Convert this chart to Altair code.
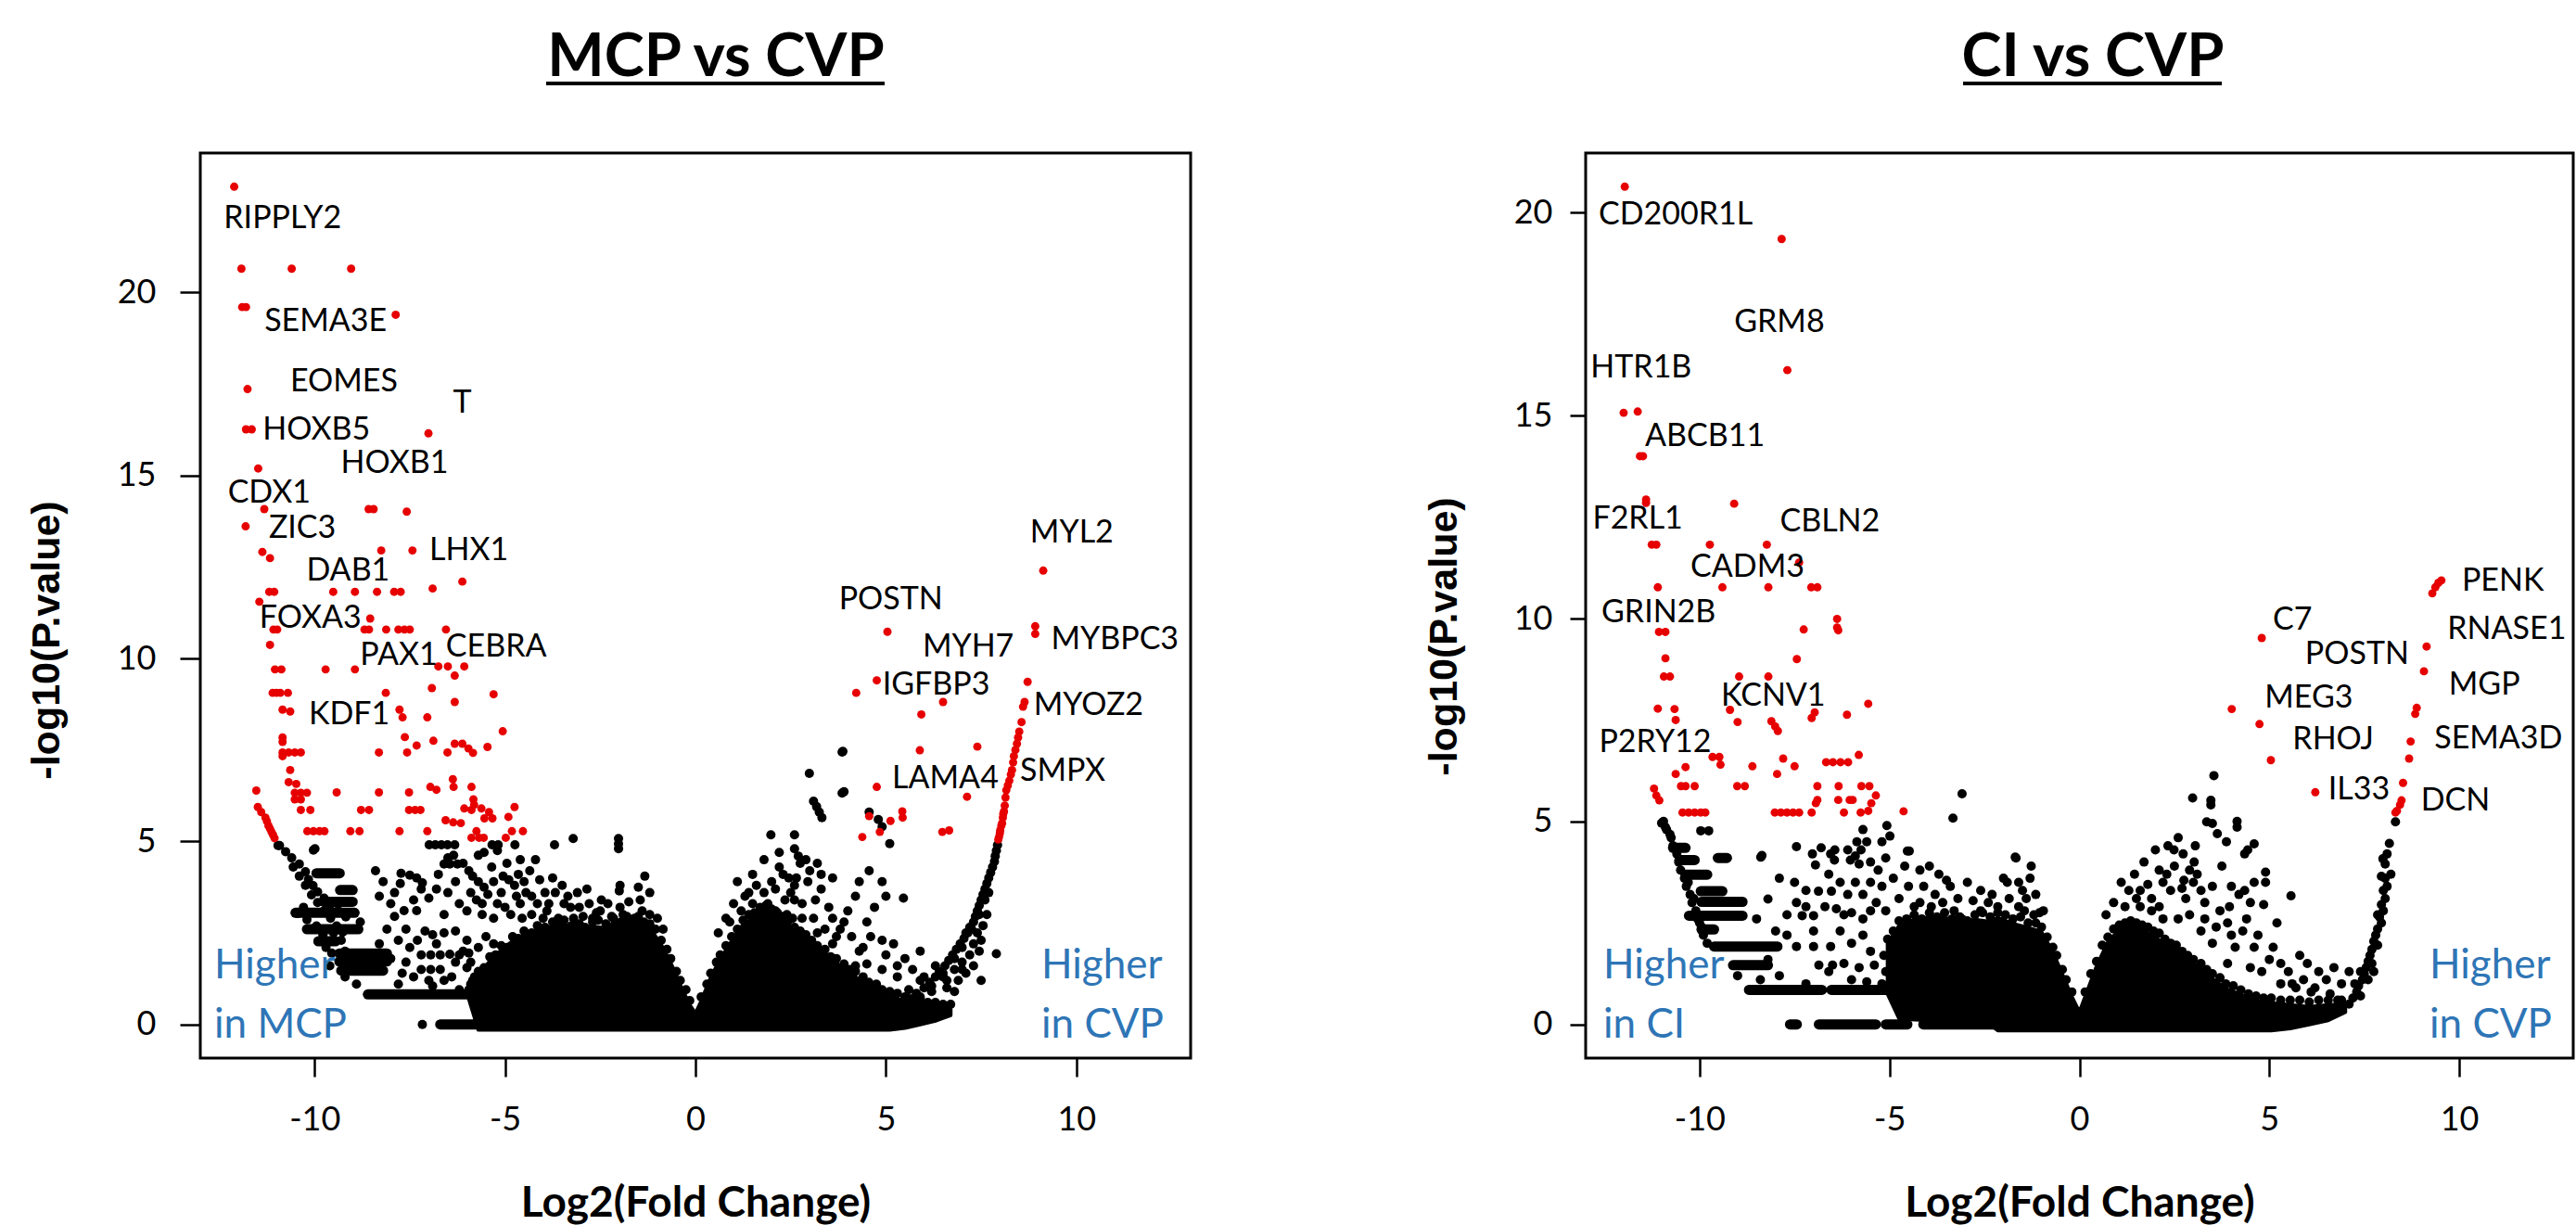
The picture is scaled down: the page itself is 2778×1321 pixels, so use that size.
import altair as alt
import pandas as pd

FONT = "Lato"
RED = "#E60000"
BLUE = "#2E75B6"
X_TICKS = [-10, -5, 0, 5, 10]
Y_TICKS = [0, 5, 10, 15, 20]

# ---------------- MCP vs CVP ----------------
L_RED = [(-12.11,22.89),(-11.92,20.65),(-10.6,20.65),(-9.04,20.65),(-11.9,19.6),(-11.8,19.6),(-7.87,19.39),
 (-11.76,17.36),(-11.8,16.26),(-11.65,16.26),(-7.01,16.15),(-11.48,15.19),(-11.32,14.08),(-8.58,14.08),(-8.45,14.08),
 (-7.58,14.01),(-11.81,13.61),(-11.37,12.91),(-11.17,12.74),(-8.25,12.95),(-7.43,12.95),(-6.12,12.1),(-6.9,11.91),
 (-11.19,11.82),(-11.06,11.82),(-9.51,11.82),(-8.94,11.82),(-8.36,11.82),(-7.91,11.82),(-7.74,11.82),(-11.45,11.55),
 (-8.54,11.09),(-11.08,10.79),(-10.98,10.79),(-8.69,10.79),(-8.57,10.79),(-8.12,10.79),(-7.8,10.79),(-7.64,10.79),
 (-7.5,10.79),(-6.55,10.79),(-11.17,10.37),(-11.04,9.7),(-10.87,9.7),(-9.71,9.7),(-8.94,9.7),(-6.75,9.78),(-6.5,9.78),
 (-6.07,9.78),(-6.32,9.53),(-11.1,9.06),(-11.0,9.06),(-10.9,9.06),(-10.7,9.06),(-8.13,9.06),(-6.92,9.19),(-5.3,9.02),
 (-6.32,8.81),(-7.77,8.6),(-7.69,8.39),(-10.84,8.6),(-10.64,8.55),(-7.04,8.39),(-5.06,8.01),(-10.84,7.84),(-10.84,7.72),
 (-7.63,7.85),(-6.88,7.75),(-6.32,7.67),(-6.12,7.67),(-5.96,7.54),(-5.84,7.42),(-5.46,7.58),(-7.32,7.62),(-7.57,7.43),
 (-6.51,7.43),(-8.31,7.43),(-10.84,7.43),(-10.68,7.43),(-10.52,7.43),(-10.36,7.43),(-10.84,7.33),(-10.64,6.95),
 (-10.68,6.62),(-10.48,6.57),(-11.53,6.39),(-9.42,6.34),(-8.31,6.34),(-7.52,6.34),(-6.96,6.49),(-6.8,6.41),(-6.37,6.7),
 (-6.35,6.49),(-5.88,6.49),(-10.52,6.33),(-10.36,6.33),(-10.2,6.33),(-10.52,6.15),(-10.36,6.15),(-5.83,6.15),(-5.81,6.0),
 (-11.49,5.94),(-11.4,5.8),(-10.36,5.86),(-10.11,5.86),(-8.78,5.86),(-8.57,5.86),(-7.52,5.86),(-7.36,5.86),(-7.22,5.86),
 (-6.07,5.9),(-5.88,5.86),(-4.75,5.94),(-4.91,5.67),(-5.62,5.9),(-5.42,5.8),(-5.33,5.63),(-5.54,5.63),(-11.29,5.65),
 (-11.25,5.55),(-11.21,5.43),(-11.17,5.35),(-11.13,5.26),(-11.09,5.18),(-11.05,5.09),(-6.56,5.58),(-6.36,5.52),
 (-6.16,5.5),(-10.19,5.28),(-10.03,5.28),(-9.87,5.28),(-9.74,5.28),(-9.06,5.28),(-8.82,5.28),(-7.77,5.28),(-7.04,5.28),
 (-5.75,5.28),(-4.82,5.28),(-4.53,5.28),(-5.88,5.1),(-5.68,5.1),(-5.56,5.1),(-4.98,5.1),
 (9.13,12.4),(5.04,10.73),(8.92,10.88),(8.92,10.67),(8.72,9.36),(4.76,9.4),(4.22,9.06),(6.5,8.81),(8.64,8.81),(8.6,8.68),
 (5.93,8.47),(8.56,8.26),(8.5,8.0),(8.47,7.84),(8.44,7.67),(8.4,7.5),(8.36,7.33),(8.34,7.16),(8.31,6.95),(8.28,6.83),
 (8.24,6.66),(8.2,6.53),(8.16,6.4),(8.14,6.2),(8.12,5.98),(8.1,5.82),(8.08,5.75),(8.07,5.65),(8.05,5.5),(8.03,5.43),
 (8.0,5.3),(7.99,5.22),(7.97,5.12),(7.95,5.05),(7.4,7.59),(5.89,7.49),(4.76,6.49),(7.13,6.22),(4.56,5.69),(4.38,5.12),
 (4.84,5.26),(5.12,5.56),(5.43,5.82),(5.44,5.65),(6.48,5.26),(6.66,5.3)]

L_BLACK = [
 # left arm
 (-10.96,4.89),(-10.92,4.89),(-10.76,4.72),(-10.6,4.55),(-10.4,4.38),(-10.24,4.17),(-10.16,3.96),(-10.04,3.79),
 (-9.92,3.62),(-9.75,3.45),(-9.58,3.28),(-9.38,3.11),(-9.18,2.94),(-10.56,4.3),(-10.4,4.05),(-10.24,3.8),(-10.08,3.54),
 (-9.92,3.33),(-9.75,3.11),(-9.58,2.9),(-9.42,2.69),(-9.26,2.52),(-10.29,3.2),(-10.45,3.03),(-10.2,2.86),(-9.95,2.69),
 (-9.78,2.44),(-9.9,2.27),(-9.7,2.1),(-9.55,1.95),
 # upper scattered
 (-9.99,4.8),(-6.99,4.91),(-6.83,4.91),(-6.67,4.91),(-6.51,4.91),(-6.32,4.91),(-5.34,4.91),(-5.18,4.91),(-4.74,4.91),
 (-3.7,4.91),(-3.21,5.08),(-2.02,5.08),(-2.02,4.93),(-2.02,4.8),
 # left lobe
 (-10.03,4.76),(-7.73,4.13),(-7.5,4.08),(-7.32,4.0),(-7.17,3.87),(-7.2,3.7),(-7.0,3.45),(-6.75,4.1),(-6.6,4.38),
 (-6.45,4.38),(-6.25,4.38),(-6.1,4.4),(-6.5,4.55),(-6.35,4.62),(-5.7,4.62),(-5.55,4.7),(-5.2,4.75),(-4.6,4.5),
 (-5.95,4.2),(-5.85,4.05),(-5.7,3.9),(-5.55,3.75),(-5.3,3.9),(-5.05,4.05),(-4.9,3.95),(-4.75,3.8),(-4.5,3.9),
 (-4.35,4.2),(-4.09,3.95),(-3.95,3.6),(-3.68,3.6),(-3.45,3.3),(-3.28,3.2),(-3.05,3.2),(-2.79,3.3),(-2.6,3.05),
 (-2.47,3.4),(-1.98,3.2),(-1.98,3.8),(-2.0,3.65),(-1.5,3.75),(-1.33,4.05),(-1.45,3.4),(-1.2,3.6),(-1.2,3.0),
 (-8.0,3.3),(-7.65,3.11),(-7.32,3.11),(-7.9,2.95),(-7.6,2.6),(-7.1,2.55),(-6.9,2.45),(-6.6,2.5),(-6.3,2.55),
 (-6.0,2.3),(-7.2,1.9),(-6.95,1.9),(-6.7,1.9),(-6.45,1.92),(-6.2,1.9),(-5.95,1.95),(-7.2,1.5),(-6.95,1.5),(-6.7,1.5),
 (-6.0,1.55),(-5.8,1.3),(-5.6,1.15),(-7.9,3.6),(-7.75,3.85),(-6.2,3.3),(-6.0,3.1),(-5.6,3.3),(-5.3,2.9),(-4.6,3.3),
 (-4.3,3.0),(-3.9,3.1),(-8.8,2.8),(-9.3,2.3),(-9.5,2.5),(-9.2,2.0),(-9.6,1.6),(-9.2,1.3),(-8.9,1.1),(-7.17,0.0),
 (-7.4,1.3),(-6.4,1.3),(-7.8,1.1),(-6.9,1.05),
 (-5.9,3.6),(-5.75,3.4),(-5.6,3.0),(-5.45,3.55),(-5.35,4.3),(-5.2,3.3),(-5.1,3.6),(-5.0,3.2),(-4.95,4.4),(-4.85,3.0),
 (-4.7,3.5),(-4.65,4.1),(-4.55,2.9),(-4.45,3.6),(-4.3,3.5),(-4.2,4.5),(-4.15,3.3),(-4.0,2.9),(-3.85,3.3),(-3.75,4.0),
 (-3.6,2.9),(-3.5,3.8),(-3.35,3.5),(-3.2,2.9),(-3.1,3.6),(-2.95,2.95),(-2.85,3.7),(-2.7,2.9),(-2.5,3.1),(-2.3,3.3),
 (-2.2,2.95),(-1.9,3.0),(-1.75,3.35),(-1.6,2.9),(-1.4,3.1),(-1.3,2.7),(-1.0,2.9),(-0.85,2.6),
 (-8.4,4.2),(-8.2,3.9),(-8.3,3.5),(-8.1,2.6),(-7.8,2.3),(-7.5,2.1),(-7.6,1.7),(-7.4,3.4),(-7.3,2.3),(-6.8,2.2),
 (-6.6,3.0),(-6.5,3.6),(-6.3,3.9),(-6.8,3.7),(-6.6,1.2),(-6.3,1.7),(-6.1,2.0),(-5.9,1.7),(-5.7,2.1),(-5.5,2.4),
 (-5.3,2.2),(-7.0,1.2),(-7.7,1.4),(-8.0,1.8),(-8.3,2.2),(-6.2,0.95),(-5.5,1.0),
 # right lobe
 (3.85,7.44),(2.99,6.86),(3.85,6.32),(3.1,6.1),(3.18,5.95),(3.25,5.8),(3.32,5.65),(1.98,5.18),(2.6,5.18),(4.56,5.8),
 (4.8,5.6),(4.9,5.4),(5.1,4.94),(2.6,4.8),(2.7,4.6),(2.75,4.4),(3.2,4.4),(3.0,4.2),(3.3,4.1),(2.65,4.0),(2.2,4.3),
 (2.3,4.1),(2.1,3.7),(1.8,3.6),(1.6,3.8),(2.5,3.6),(2.6,3.4),(4.3,3.9),(4.56,4.2),(4.9,3.9),(5.0,3.5),(5.46,3.45),
 (4.0,3.1),(3.6,2.9),(3.8,2.6),(4.5,2.8),(4.9,2.3),(4.4,2.1),(5.0,1.9),(4.5,1.65),(3.6,2.2),(3.2,2.5),(2.8,2.9),
 (2.4,3.0),(1.9,3.3),(1.5,3.3),(1.2,3.1),(1.3,3.5),(0.9,2.8),(3.0,1.6),(3.8,1.4),(4.2,1.6),(5.3,1.6),(5.9,2.0),
 (7.9,1.93),(6.5,1.3),(7.0,1.5),(5.9,1.2),(6.2,0.9),(5.6,0.95),(3.87,7.46),(3.9,6.36),
 (0.6,2.5),(0.8,2.9),(1.0,3.3),(1.1,3.9),(1.4,3.6),(1.5,4.1),(1.7,3.0),(1.8,4.5),(2.0,3.9),(2.1,3.1),(2.2,4.7),
 (2.35,3.4),(2.45,4.0),(2.55,2.9),(2.6,3.8),(2.8,3.3),(2.9,4.5),(2.95,3.9),(3.1,2.9),(3.15,3.4),(3.3,3.7),(3.4,2.6),
 (3.5,3.2),(3.6,4.0),(3.7,2.4),(3.9,2.8),(4.1,2.4),(4.2,3.5),(4.3,2.0),(4.6,2.4),(4.7,3.2),(4.9,1.5),(5.2,2.2),
 (5.3,1.3),(5.5,1.8),(5.7,1.5),(6.0,1.3),(6.3,1.6),(6.6,1.2),(6.8,0.9),(7.3,1.6),(7.5,1.2),
 # right arm
 (7.93,4.9),(7.9,4.75),(7.87,4.6),(7.85,4.45),(7.8,4.3),(7.75,4.15),(7.7,4.0),(7.65,3.85),(7.6,3.7),(7.55,3.55),
 (7.5,3.4),(7.45,3.25),(7.4,3.1),(7.35,2.95),(7.3,2.8),(7.2,2.65),(7.15,2.5),(7.05,2.35),(6.95,2.2),(6.85,2.05),
 (6.75,1.9),(6.65,1.75),(6.55,1.6),(6.4,1.45),(6.3,1.3),(6.15,1.15),(6.0,1.0),(5.8,0.85),(5.6,0.7),(5.4,0.55),
 (5.2,0.4),(7.6,3.4),(7.45,3.0),(7.25,2.6),(7.0,2.1),(6.8,1.8),(6.5,1.4),(6.2,1.05),(5.9,0.75),(7.7,3.6),(7.1,2.5),
 (7.65,3.0),(7.55,2.7),(7.4,2.5),(7.5,2.3),(7.3,2.2),(7.2,1.9),(7.0,1.7),(6.8,1.5),(7.45,2.0),(7.1,1.4),(6.9,1.2),
 (6.6,1.0)]

# points sitting on the rim of the dense mass
L_EDGE = [(-5.95,0.95),(-5.9,1.1),(-5.85,1.2),(-5.7,1.45),(-5.55,1.55),(-5.4,1.85),(-5.25,1.9),(-5.1,2.15),
 (-4.95,2.1),(-4.8,2.4),(-4.65,2.35),(-4.5,2.55),(-4.3,2.5),(-4.15,2.7),(-3.95,2.65),(-3.75,2.8),(-3.6,2.7),
 (-3.45,2.85),(-3.25,2.7),(-3.05,2.75),(-2.9,2.65),(-2.7,2.8),(-2.55,2.85),(-2.35,2.75),(-2.15,2.9),(-1.95,2.8),
 (-1.8,2.95),(-1.65,2.85),(-1.5,2.95),(-1.35,2.8),(-1.2,2.75),(-1.05,2.6),(-0.9,2.3),(-0.75,2.05),(-0.65,1.8),
 (-0.5,1.45),(-0.4,1.2),(-0.25,0.95),(-0.15,0.65),(0.15,0.75),(0.3,1.1),(0.4,1.4),(0.55,1.7),(0.65,1.9),(0.8,2.15),
 (0.95,2.4),(1.1,2.6),(1.25,2.85),(1.4,3.0),(1.55,3.05),(1.7,3.2),(1.85,3.25),(2.0,3.15),(2.15,3.05),(2.3,2.95),
 (2.45,2.85),(2.6,2.65),(2.75,2.55),(2.9,2.45),(3.05,2.3),(3.2,2.15),(3.4,2.05),(3.55,1.85),(3.7,1.8),(3.9,1.65),
 (4.05,1.5),(4.2,1.45),(4.4,1.3),(4.55,1.15),(4.75,1.1),(4.9,0.95),(5.1,0.9),(5.3,0.85),(5.5,0.75),(5.7,0.7),
 (5.9,0.7),(6.1,0.6),(6.3,0.6),(6.5,0.55),(6.7,0.55)]

L_CORE_X = [-5.95,-5.7,-5.4,-5.1,-4.8,-4.5,-4.15,-3.75,-3.45,-3.05,-2.7,-2.35,-2.15,-1.8,-1.5,-1.2,-0.9,-0.65,
 -0.4,-0.15,0.0,0.15,0.4,0.65,0.95,1.25,1.55,1.85,2.15,2.45,2.75,3.05,3.4,3.7,4.05,4.4,4.75,5.1,5.5,5.9,6.3,6.7]
L_CORE_TOP = [0.85,1.33,1.73,2.03,2.28,2.43,2.58,2.68,2.73,2.63,2.68,2.63,2.78,2.83,2.83,2.63,2.18,1.68,1.08,0.53,
 0.3,0.63,1.28,1.78,2.28,2.73,2.93,3.13,2.93,2.73,2.43,2.18,1.93,1.68,1.38,1.18,0.98,0.78,0.63,0.58,0.48,0.43]
L_CORE_BOT = [0.7,-0.15,-0.15,-0.15,-0.15,-0.15,-0.15,-0.15,-0.15,-0.15,-0.15,-0.15,-0.15,-0.15,-0.15,-0.15,-0.15,
 -0.15,-0.15,-0.15,-0.15,-0.15,-0.15,-0.15,-0.15,-0.15,-0.15,-0.15,-0.15,-0.15,-0.15,-0.15,-0.15,-0.15,-0.15,-0.15,
 -0.15,-0.15,-0.1,0.0,0.1,0.25]

L_BARS = [(-9.95,-9.34,4.13),(-9.33,-9.0,3.67),(-9.75,-9.0,3.35),(-10.5,-8.95,3.05),(-10.2,-8.85,2.6),
 (-9.9,-9.45,2.27),(-9.35,-8.1,1.94),(-9.35,-8.1,1.72),(-9.3,-8.2,1.47),(-8.6,-4.4,0.82),(-6.7,-1.5,0.0)]

L_LABELS = [("RIPPLY2",-10.84,22.0),("SEMA3E",-9.71,19.2),("EOMES",-9.23,17.54),("T",-6.12,16.96),
 ("HOXB5",-9.95,16.24),("HOXB1",-7.9,15.32),("CDX1",-11.19,14.51),("ZIC3",-10.32,13.54),("LHX1",-5.95,12.95),
 ("DAB1",-9.12,12.38),("FOXA3",-10.11,11.09),("PAX1",-7.79,10.08),("CEBRA",-5.23,10.3),("KDF1",-9.09,8.45),
 ("MYL2",9.88,13.41),("POSTN",5.13,11.59),("MYH7",7.16,10.3),("MYBPC3",11.01,10.5),("IGFBP3",6.32,9.27),
 ("MYOZ2",10.32,8.7),("SMPX",9.64,6.91),("LAMA4",6.56,6.7)]

# ---------------- CI vs CVP ----------------
R_RED = [(-11.97,20.64),(-7.84,19.35),(-7.69,16.12),(-12.0,15.07),(-11.63,15.1),(-11.57,14.0),(-11.49,14.0),
 (-11.41,12.93),(-11.41,12.85),(-9.09,12.83),(-11.26,11.82),(-11.14,11.82),(-9.73,11.82),(-8.23,11.82),(-7.38,11.38),
 (-11.1,10.77),(-9.4,10.77),(-8.19,10.77),(-7.06,10.77),(-6.9,10.77),(-6.38,9.99),(-6.38,9.78),(-6.35,9.71),
 (-7.26,9.73),(-11.07,9.67),(-10.9,9.67),(-10.9,9.02),(-7.44,9.0),(-10.94,8.57),(-10.78,8.57),(-8.96,8.57),
 (-8.19,8.57),(-5.56,7.9),(-11.1,7.78),(-10.66,7.77),(-9.2,7.75),(-6.12,7.63),(-6.97,7.69),(-7.05,7.55),(-10.63,7.5),
 (-9.0,7.45),(-8.11,7.47),(-8.01,7.34),(-7.94,7.23),(-9.66,6.59),(-9.48,6.59),(-9.45,6.4),(-10.37,6.34),(-8.61,6.36),
 (-7.8,6.55),(-7.5,6.36),(-6.67,6.46),(-6.49,6.46),(-6.29,6.46),(-6.09,6.46),(-5.81,6.64),(-10.63,6.17),(-7.96,6.17),
 (-10.49,5.87),(-10.37,5.87),(-10.13,5.87),(-9.01,5.87),(-8.81,5.87),(-6.9,5.87),(-6.34,5.87),(-5.74,5.87),
 (-5.53,5.87),(-11.2,5.81),(-11.14,5.64),(-11.06,5.52),(-6.9,5.53),(-6.94,5.45),(-6.35,5.53),(-6.05,5.53),
 (-5.97,5.53),(-5.36,5.64),(-5.48,5.45),(-5.56,5.26),(-10.45,5.22),(-10.29,5.22),(-10.13,5.22),(-9.97,5.22),
 (-9.85,5.22),(-8.02,5.22),(-7.86,5.22),(-7.7,5.22),(-7.54,5.22),(-7.38,5.22),(-7.05,5.22),(-6.2,5.22),(-5.76,5.22),
 (-4.63,5.25),
 (9.29,10.62),(9.37,10.77),(9.45,10.88),(9.53,10.94),(4.8,9.52),(9.14,9.31),(9.07,8.7),(4.01,7.77),(8.88,7.8),
 (8.84,7.65),(4.74,7.4),(8.72,6.97),(8.68,6.55),(5.04,6.51),(6.21,5.72),(8.52,5.95),(8.48,5.52),(8.44,5.41),
 (8.36,5.26),(8.32,5.22)]

R_BLACK = [
 # left arm
 (-10.95,5.0),(-11.0,4.96),(-10.9,4.86),(-10.78,4.68),(-10.87,4.8),(-10.75,4.6),(-10.7,4.4),(-10.6,4.2),(-10.55,4.0),
 (-10.5,3.8),(-10.4,3.6),(-10.35,3.4),(-10.25,3.2),(-10.2,3.0),(-10.1,2.8),(-10.05,2.6),(-9.95,2.4),(-9.9,2.2),
 (-9.8,2.0),(-10.3,3.5),(-10.15,3.1),(-10.0,2.5),(-9.97,4.77),(-9.76,4.77),
 # left lobe
 (-5.7,4.8),(-5.6,4.5),(-5.75,4.3),(-5.07,4.9),(-4.99,4.64),(-3.09,5.68),(-3.33,5.08),(-4.48,4.27),(-6.8,4.35),
 (-6.55,4.2),(-6.45,4.05),(-6.1,4.3),(-5.9,4.15),(-5.8,3.95),(-8.39,4.12),(-1.67,4.1),(-1.27,3.9),(-1.3,3.6),
 (-1.9,3.5),(-8.36,4.16),(-8.2,3.09),(-7.45,4.38),(-7.03,4.2),(-6.44,4.3),(-6.95,3.93),(-6.87,3.28),(-6.53,3.28),
 (-5.86,4.5),(-6.03,4.05),(-5.5,4.0),(-5.3,3.8),(-5.1,4.1),(-4.53,4.27),(-4.2,3.8),(-3.7,3.7),(-3.5,3.55),(-7.45,3.0),
 (-7.2,2.9),(-7.3,2.68),(-7.0,2.68),(-6.4,2.85),(-6.2,2.7),(-6.0,2.75),(-5.7,2.6),(-5.5,2.8),(-4.2,3.0),(-3.9,2.9),
 (-3.3,2.8),(-3.1,2.6),(-1.69,4.12),(-1.5,3.3),(-1.4,3.1),(-1.6,2.9),(-1.2,2.7),(-1.05,2.75),(-2.4,3.0),(-2.6,2.8),
 (-7.45,1.92),(-7.0,1.92),(-6.55,1.92),(-6.86,1.46),(-6.5,1.46),(-6.2,1.5),(-5.8,1.4),(-5.4,1.46),(-6.0,1.1),
 (-5.6,1.05),(-5.2,1.0),(-8.0,2.3),(-7.7,2.2),(-8.5,2.6),(-8.2,1.6),(-7.9,1.2),(-9.0,1.2),(-8.4,1.1),(-5.2,4.5),
 (-5.9,3.5),(-5.7,3.2),(-5.5,3.5),(-5.35,3.0),(-5.2,3.4),(-5.1,2.8),(-4.9,3.6),(-4.75,3.1),(-4.6,3.9),(-4.5,3.4),
 (-4.35,2.9),(-4.1,3.4),(-3.95,3.9),(-3.8,3.2),(-3.6,3.0),(-3.4,3.4),(-3.2,3.1),(-2.95,3.5),(-2.8,3.05),(-2.6,3.3),
 (-2.3,3.2),(-2.15,2.9),(-2.0,3.6),(-1.85,3.1),(-1.6,3.5),(-1.45,2.8),(-1.15,3.2),(-0.95,2.8),
 (-7.9,3.6),(-7.7,2.7),(-7.5,3.5),(-7.2,3.3),(-7.0,2.3),(-6.7,2.9),(-6.6,3.7),(-6.3,3.5),(-6.1,3.2),(-6.3,2.3),
 (-6.0,2.0),(-5.7,2.2),(-5.5,1.8),(-6.6,1.3),(-7.2,1.0),
 # right lobe
 (3.54,6.13),(2.98,5.58),(3.46,5.52),(3.46,5.41),(3.35,4.99),(3.5,4.95),(3.63,4.7),(4.15,5.0),(4.15,4.86),(2.33,4.4),
 (2.49,4.3),(2.73,4.2),(3.02,4.0),(3.87,4.5),(4.43,4.3),(4.6,4.45),(4.35,4.2),(2.1,3.8),(2.3,3.7),(2.2,3.5),(1.8,3.45),
 (1.3,3.3),(2.9,3.8),(2.75,3.55),(3.1,3.7),(2.7,3.35),(3.0,3.5),(4.9,3.75),(4.9,3.5),(4.85,2.95),(4.6,3.5),(4.35,3.3),
 (4.2,3.2),(5.57,3.17),(3.95,2.9),(3.7,2.8),(1.5,3.1),(1.6,2.9),(1.9,2.8),(2.2,2.6),(2.6,2.6),(3.2,2.3),(3.5,2.0),
 (4.0,2.2),(4.6,1.9),(5.0,1.6),(5.5,1.3),(6.0,1.5),(6.5,1.1),(6.2,0.9),(4.5,1.4),(3.9,1.5),(7.4,1.3),(5.2,2.5),
 (4.4,2.6),(3.3,3.0),(5.3,1.0),(5.7,0.9),(6.1,0.8),(6.6,0.75),(6.9,0.6),(5.9,1.1),
 (0.7,2.7),(0.9,3.0),(1.1,3.5),(1.2,2.9),(1.45,3.7),(1.6,3.3),(1.7,4.0),(1.9,3.1),(2.0,4.3),(2.1,2.9),(2.4,3.3),
 (2.5,3.9),(2.6,4.6),(2.8,3.1),(2.9,2.7),(3.05,4.4),(3.2,3.3),(3.3,2.6),(3.5,3.4),(3.6,2.4),(3.75,3.9),(3.9,2.5),
 (4.0,3.4),(4.1,1.9),(4.3,2.3),(4.5,3.0),(4.7,2.2),(4.8,1.3),(5.1,1.9),(5.3,1.5),(5.6,1.0),(5.8,1.7),(6.3,1.3),
 (6.7,1.4),(6.9,1.0),(7.1,1.3),
 # right arm
 (8.32,4.99),(8.16,4.46),(8.1,4.2),(7.99,4.08),(8.05,3.95),(8.2,3.7),(8.05,3.6),(8.1,3.4),(8.0,3.3),(8.05,3.1),
 (7.95,2.95),(8.0,2.8),(7.9,2.65),(7.95,2.5),(7.85,2.35),(7.8,2.2),(7.75,2.05),(7.85,1.95),(7.7,1.85),(7.65,1.7),
 (7.6,1.55),(7.7,1.5),(7.55,1.4),(7.5,1.25),(7.45,1.1),(7.35,0.95),(7.3,0.8),(7.2,0.65),(7.1,0.5),(7.6,1.1),(7.4,0.7),
 (7.75,1.3),(7.25,1.0),(7.95,3.65),(7.85,2.7)]

R_EDGE = [(-5.1,0.95),(-5.1,1.3),(-5.15,1.7),(-5.05,2.1),(-4.9,2.3),(-4.75,2.55),(-4.55,2.6),(-4.35,2.7),(-4.15,2.6),
 (-3.95,2.75),(-3.75,2.65),(-3.55,2.75),(-3.35,2.6),(-3.15,2.65),(-2.95,2.55),(-2.75,2.7),(-2.55,2.75),(-2.35,2.65),
 (-2.15,2.75),(-1.95,2.7),(-1.75,2.6),(-1.55,2.65),(-1.35,2.5),(-1.15,2.5),(-1.0,2.4),(-0.85,2.15),(-0.7,1.9),
 (-0.6,1.7),(-0.45,1.35),(-0.35,1.1),(-0.2,0.8),(0.15,0.8),(0.3,1.25),(0.45,1.55),(0.6,1.95),(0.75,2.15),(0.9,2.35),
 (1.05,2.45),(1.2,2.5),(1.35,2.55),(1.5,2.5),(1.65,2.45),(1.8,2.4),(1.95,2.3),(2.1,2.25),(2.25,2.1),(2.4,2.0),
 (2.55,1.95),(2.7,1.8),(2.85,1.7),(3.0,1.6),(3.2,1.5),(3.35,1.35),(3.5,1.25),(3.7,1.15),(3.85,1.0),(4.05,0.95),
 (4.25,0.85),(4.45,0.75),(4.65,0.7),(4.85,0.65),(5.05,0.65),(5.3,0.6),(5.55,0.6),(5.8,0.6),(6.05,0.55),(6.3,0.6),
 (6.55,0.6),(6.8,0.6)]

R_CORE_X = [-5.05,-4.75,-4.35,-3.95,-3.55,-3.15,-2.75,-2.35,-2.15,-1.75,-1.35,-1.0,-0.7,-0.45,-0.2,0.0,0.15,0.45,
 0.75,1.05,1.35,1.65,1.95,2.25,2.55,2.85,3.2,3.5,3.85,4.25,4.65,5.05,5.55,6.05,6.55,7.0]
R_CORE_TOP = [1.98,2.43,2.58,2.63,2.63,2.53,2.58,2.53,2.63,2.48,2.38,2.28,1.78,1.23,0.68,0.3,0.68,1.43,2.03,2.33,
 2.43,2.33,2.18,1.98,1.83,1.58,1.38,1.13,0.88,0.73,0.58,0.53,0.48,0.43,0.48,0.5]
R_CORE_BOT = [0.75,0.15,0.12,0.1,0.08,0.05,0.02,0.0,-0.15,-0.15,-0.15,-0.15,-0.15,-0.15,-0.15,-0.15,-0.15,-0.15,
 -0.15,-0.15,-0.15,-0.15,-0.15,-0.15,-0.15,-0.15,-0.15,-0.15,-0.15,-0.15,-0.15,-0.15,-0.1,0.0,0.1,0.3]

R_BARS = [(-10.7,-10.37,4.35),(-10.53,-10.13,4.05),(-9.52,-9.28,4.1),(-10.37,-9.8,3.69),(-9.97,-9.4,3.28),
 (-9.95,-8.87,3.02),(-10.28,-8.87,2.68),(-9.95,-9.62,2.34),(-9.62,-7.95,1.92),(-9.12,-8.2,1.46),(-8.7,-6.78,0.85),
 (-6.53,-4.36,0.85),(-7.62,-7.44,0.0),(-6.86,-5.36,0.0),(-5.1,-4.53,0.0),(-4.11,-2.2,0.0)]

R_LABELS = [("CD200R1L",-10.63,19.94),("GRM8",-7.9,17.28),("HTR1B",-11.54,16.18),("ABCB11",-9.86,14.47),
 ("F2RL1",-11.63,12.45),("CBLN2",-6.57,12.38),("CADM3",-8.74,11.25),("GRIN2B",-11.08,10.14),("KCNV1",-8.06,8.09),
 ("P2RY12",-11.17,6.93),("PENK",11.15,10.92),("C7",5.61,9.96),("RNASE1",11.25,9.73),("POSTN",7.31,9.12),
 ("MGP",10.66,8.36),("MEG3",6.04,8.03),("RHOJ",6.68,7.01),("SEMA3D",11.03,7.02),("IL33",7.36,5.78),("DCN",9.9,5.5)]


def panel(title, red, black, edge, cx, ct, cb, bars, labels, ydom, w, ytx, yty, ytick, ylabpad,
          title_cx, ul, left_lines, right_lines):
    xs = alt.Scale(domain=[-13, 13], nice=False, zero=False)
    ys = alt.Scale(domain=ydom, nice=False, zero=False)
    xax = alt.Axis(values=X_TICKS, labelExpr="'' + datum.value", domain=False, grid=False,
                   tickSize=20, tickWidth=2.5, tickColor="black", labelFont=FONT, labelFontSize=36,
                   labelColor="black", labelPadding=29, labelFlush=False, labelOverlap=False,
                   title="Log2(Fold Change)", titleFont=FONT, titleFontSize=46, titleFontWeight="bold",
                   titleColor="black", titleY=170, titleBaseline="alphabetic")
    yax = alt.Axis(values=Y_TICKS, domain=False, grid=False, tickSize=ytick, tickWidth=2.5,
                   tickColor="black", labelFont=FONT, labelFontSize=36, labelColor="black",
                   labelPadding=ylabpad, labelFlush=False, labelOverlap=False,
                   title="-log10(P.value)", titleFont="Liberation Sans", titleFontSize=43,
                   titleFontWeight="bold", titleColor="black", titleX=ytx, titleY=yty,
                   titleAngle=270, titleBaseline="bottom", titleAlign="center")

    X = lambda f: alt.X(f, scale=xs, axis=xax)
    Y = lambda f: alt.Y(f, scale=ys, axis=yax)

    core_df = pd.DataFrame({"x": cx, "y": ct, "y2": cb})
    core = alt.Chart(core_df).mark_area(color="black", stroke="black", strokeWidth=4,
                                        strokeJoin="round", opacity=1).encode(
        x=X("x:Q"), y=Y("y:Q"), y2="y2:Q")

    bar_df = pd.DataFrame(bars, columns=["x", "x2", "y"])
    bar_layer = alt.Chart(bar_df).mark_rule(color="black", strokeWidth=11, strokeCap="round").encode(
        x=X("x:Q"), x2="x2:Q", y=Y("y:Q"))

    blk_df = pd.DataFrame(black + edge, columns=["x", "y"])
    blk = alt.Chart(blk_df).mark_circle(color="black", size=100, opacity=1).encode(x=X("x:Q"), y=Y("y:Q"))

    red_df = pd.DataFrame(red, columns=["x", "y"])
    redl = alt.Chart(red_df).mark_circle(color=RED, size=80, opacity=1).encode(x=X("x:Q"), y=Y("y:Q"))

    lab_df = pd.DataFrame(labels, columns=["t", "x", "y"])
    labl = alt.Chart(lab_df).mark_text(font=FONT, fontSize=34, color="black", align="center",
                                       baseline="middle").encode(x=X("x:Q"), y=Y("y:Q"), text="t:N")

    ttl = alt.Chart(pd.DataFrame({"t": [title]})).mark_text(
        font=FONT, fontSize=65, fontWeight="bold", color="black", align="center",
        baseline="alphabetic").encode(x=alt.value(title_cx), y=alt.value(-83), text="t:N")
    und = alt.Chart(pd.DataFrame({"t": [title]})).mark_rule(color="black", strokeWidth=4).encode(
        x=alt.value(ul[0]), x2=alt.value(ul[1]), y=alt.value(-75))

    notes = []
    for (txt, xp, yp) in left_lines + right_lines:
        notes.append(alt.Chart(pd.DataFrame({"t": [txt]})).mark_text(
            font=FONT, fontSize=44, color=BLUE, align="left", baseline="alphabetic").encode(
            x=alt.value(xp), y=alt.value(yp), text="t:N"))

    return alt.layer(core, bar_layer, blk, redl, labl, ttl, und, *notes).properties(width=w, height=976)


left = panel("MCP vs CVP", L_RED, L_BLACK, L_EDGE, L_CORE_X, L_CORE_TOP, L_CORE_BOT, L_BARS, L_LABELS,
             [-0.92, 23.81], 1068, -144, 525, 22, 26, 556, (373, 738),
             [("Higher", 15, 890), ("in MCP", 15, 954)], [("Higher", 907, 890), ("in CVP", 907, 954)])
right = panel("CI vs CVP", R_RED, R_BLACK, R_EDGE, R_CORE_X, R_CORE_TOP, R_CORE_BOT, R_BARS, R_LABELS,
              [-0.83, 21.47], 1065, -131, 521, 17, 19, 547, (407, 686),
              [("Higher", 19, 890), ("in CI", 19, 954)], [("Higher", 910, 890), ("in CVP", 910, 954)])

chart = alt.hconcat(left, right, spacing=426, bounds="flush").properties(
    padding={"left": 27, "top": 28, "right": 0, "bottom": 0},
    background="white"
).configure_view(stroke="black", strokeWidth=3)

chart.save("out.html", embed_options={"renderer": "svg", "actions": False})
